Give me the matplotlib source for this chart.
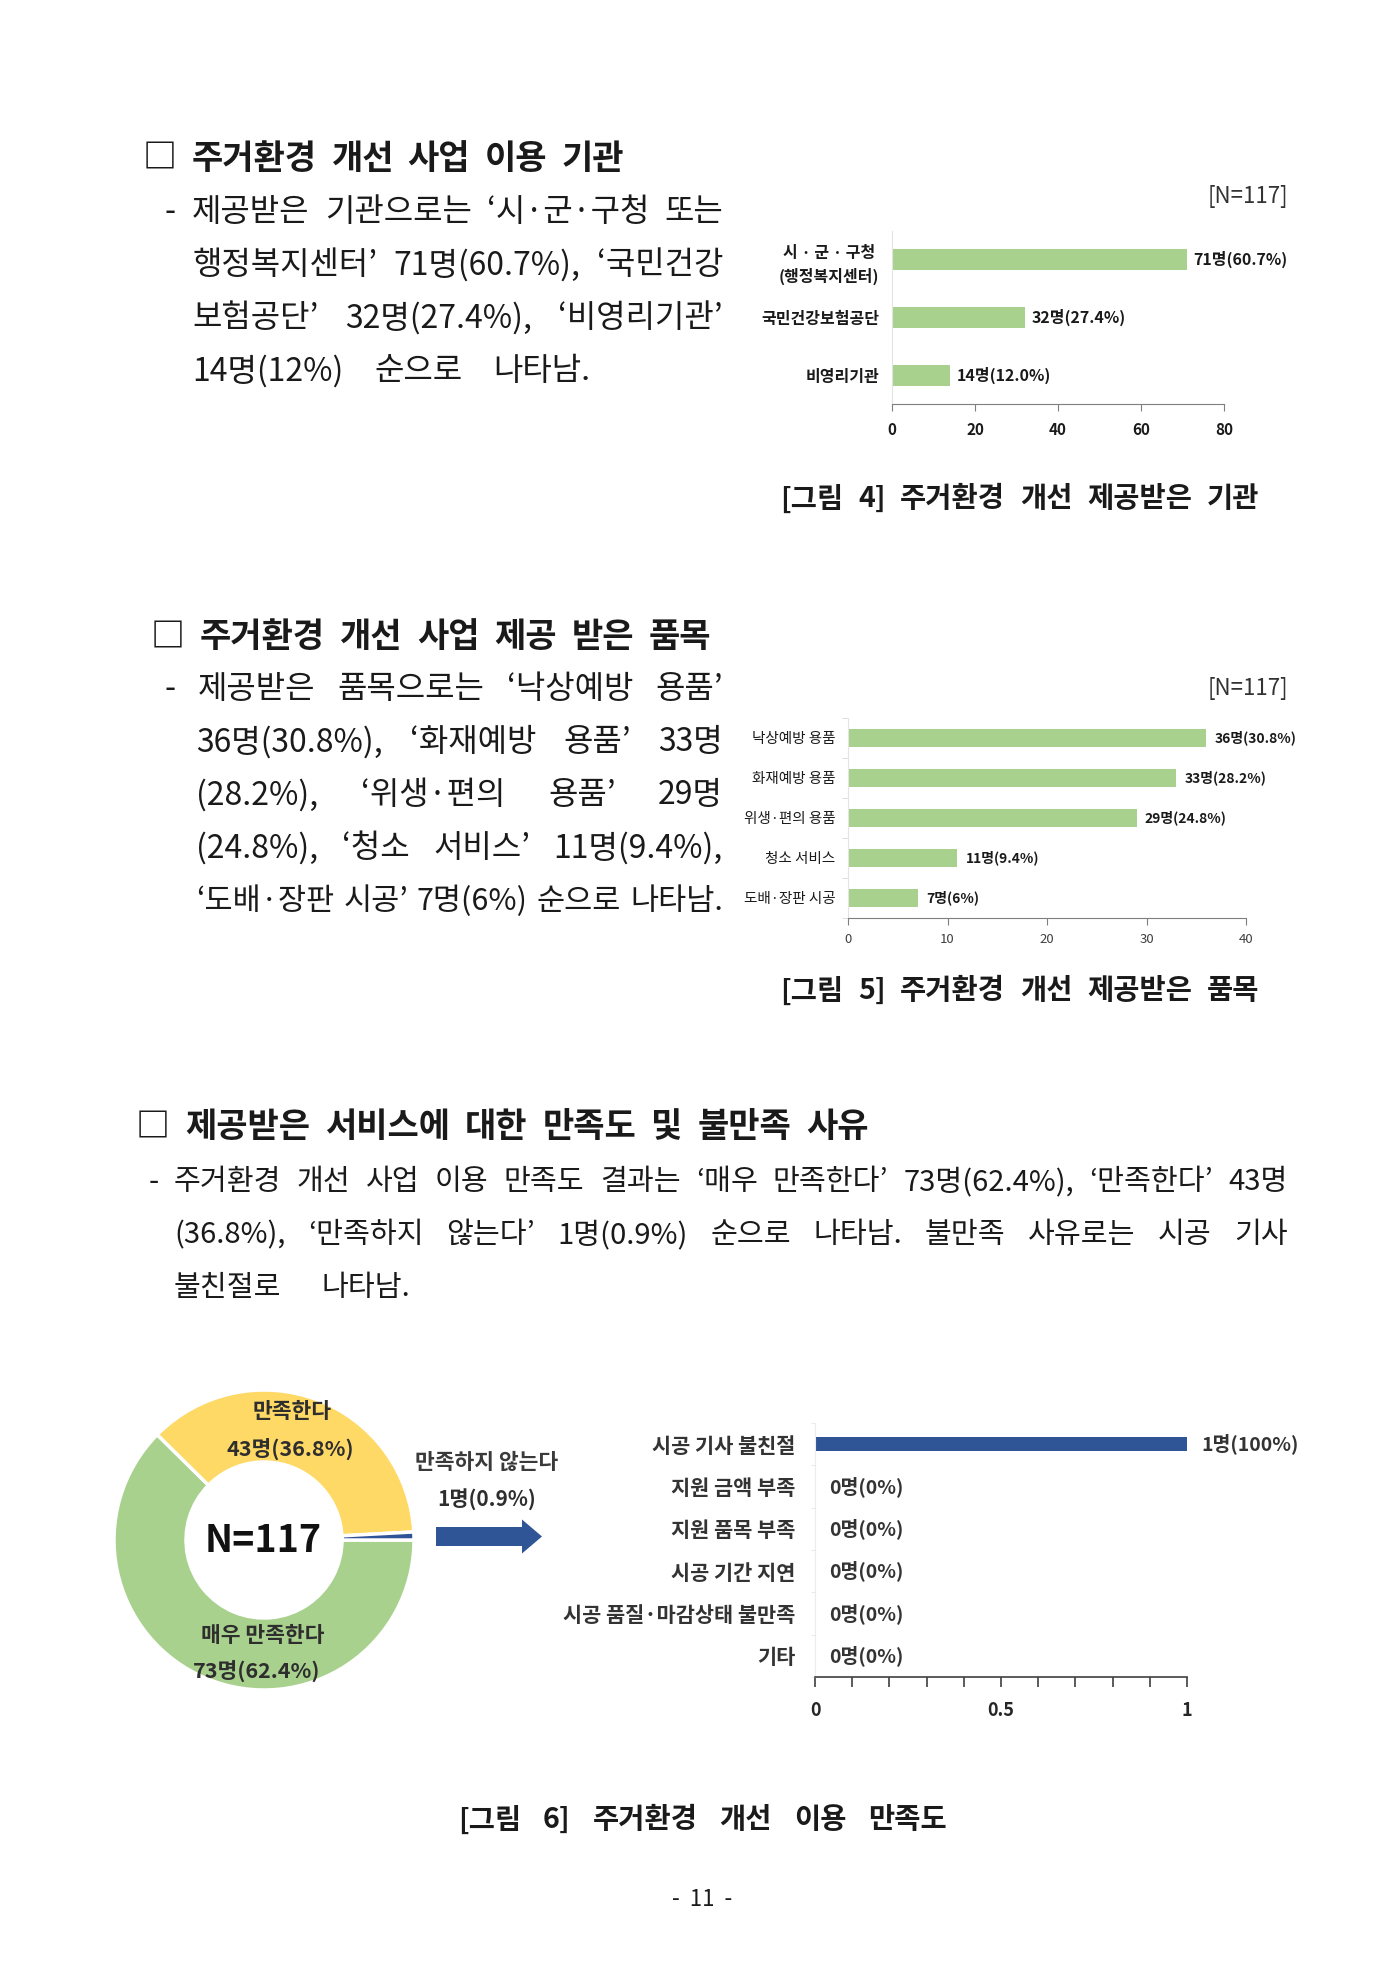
import matplotlib
matplotlib.use('Agg')
import matplotlib.pyplot as plt
from matplotlib.patches import FancyArrow
from matplotlib.ticker import MultipleLocator, FixedLocator

plt.rcParams['font.family'] = ['Noto Sans CJK KR', 'DejaVu Sans']

# ---------------- data ----------------
inst_labels = ['시 · 군 · 구청\n(행정복지센터)', '국민건강보험공단', '비영리기관']
inst_counts = [71, 32, 14]
inst_pcts = ['60.7%', '27.4%', '12.0%']
inst_ticks = [0, 20, 40, 60, 80]

item_labels = ['낙상예방 용품', '화재예방 용품', '위생·편의 용품', '청소 서비스', '도배·장판 시공']
item_counts = [36, 33, 29, 11, 7]
item_pcts = ['30.8%', '28.2%', '24.8%', '9.4%', '6%']
item_ticks = [0, 10, 20, 30, 40]

sat_labels = ['매우 만족한다', '만족한다', '만족하지 않는다']
sat_counts = [73, 43, 1]
sat_pcts = ['62.4%', '36.8%', '0.9%']
sat_total = 117

reason_labels = ['시공 기사 불친절', '지원 금액 부족', '지원 품목 부족', '시공 기간 지연',
                 '시공 품질·마감상태 불만족', '기타']
reason_counts = [1, 0, 0, 0, 0, 0]
reason_pcts = ['100%', '0%', '0%', '0%', '0%', '0%']
reason_ticks = [0, 0.5, 1]
reason_tick_labels = ['0', '0.5', '1']

GREEN = '#A9D18E'
YELLOW = '#FFD966'
BLUE = '#2F5597'
TXT = '#1a1a1a'

W, H = 1400, 1980
fig = plt.figure(figsize=(14, 19.8), dpi=100)
fig.patch.set_facecolor('white')
page = fig.add_axes([0, 0, 1, 1])
page.set_xlim(0, W)
page.set_ylim(H, 0)
page.axis('off')
page.set_zorder(10)
renderer = fig.canvas.get_renderer()


def px_axes(x0, y0, x1, y1):
    return fig.add_axes([x0 / W, 1 - y1 / H, (x1 - x0) / W, (y1 - y0) / H])


def words_line(x, y, s, size, weight='normal', right=None, gap_em=0.3, color=TXT):
    words = s.split(' ')
    objs = [page.text(0, y, w, fontsize=size, fontweight=weight, va='center',
                      ha='left', color=color) for w in words]
    widths = [o.get_window_extent(renderer=renderer).width for o in objs]
    if right is not None and len(words) > 1:
        gap = (right - x - sum(widths)) / (len(words) - 1)
    else:
        gap = gap_em * size * 100 / 72
    cx = x
    for o, w in zip(objs, widths):
        o.set_x(cx)
        cx += w + gap


# ---------------- section 1 ----------------
HEAD = 24.5
words_line(143, 158, '□ 주거환경 개선 사업 이용 기관', HEAD, 'bold', right=624)
BODY = 23
page.text(164, 212, '-', fontsize=BODY, va='center', ha='left', color=TXT)
words_line(192, 212, '제공받은 기관으로는 ‘시·군·구청 또는', BODY, right=723)
words_line(192, 265, '행정복지센터’ 71명(60.7%), ‘국민건강', BODY, right=723)
words_line(192, 318, '보험공단’ 32명(27.4%), ‘비영리기관’', BODY, right=723)
words_line(192, 371, '14명(12%) 순으로 나타남.', BODY, right=590)

page.text(1288, 196, '[N=117]', fontsize=16, ha='right', va='center', color='#333333')

ax1 = px_axes(892, 231, 1224, 404)
ax1.barh(range(len(inst_counts)), inst_counts, height=0.36, color=GREEN)
ax1.set_xlim(0, 80)
ax1.set_ylim(len(inst_counts) - 0.5, -0.5)
ax1.set_xticks(inst_ticks)
ax1.set_yticks(range(len(inst_labels)))
ax1.set_yticklabels(inst_labels, fontsize=11.5, fontweight='bold', color=TXT, linespacing=1.5)
for lbl in ax1.get_yticklabels():
    lbl.set_multialignment('center')
ax1.tick_params(axis='y', length=0, pad=9)
ax1.tick_params(axis='x', length=5, color='#7f7f7f', labelsize=11, pad=8, labelcolor=TXT)
for lbl in ax1.get_xticklabels():
    lbl.set_fontweight('bold')
for s in ['top', 'right']:
    ax1.spines[s].set_visible(False)
ax1.spines['left'].set_color('#e3e3e3')
ax1.spines['bottom'].set_color('#7f7f7f')
for i, (c, p) in enumerate(zip(inst_counts, inst_pcts)):
    ax1.annotate(f'{c}명({p})', xy=(c, i), xytext=(5, 0), textcoords='offset points',
                 va='center', ha='left', fontsize=11.5, fontweight='bold', color=TXT)

CAP = 20.5
words_line(780, 499, '[그림 4] 주거환경 개선 제공받은 기관', CAP, 'bold', right=1259)

# ---------------- section 2 ----------------
words_line(151, 637, '□ 주거환경 개선 사업 제공 받은 품목', HEAD, 'bold', right=711)
page.text(165, 689, '-', fontsize=BODY, va='center', ha='left', color=TXT)
words_line(198, 689, '제공받은 품목으로는 ‘낙상예방 용품’', BODY, right=723)
words_line(196, 742, '36명(30.8%), ‘화재예방 용품’ 33명', BODY, right=723)
words_line(196, 795, '(28.2%), ‘위생·편의 용품’ 29명', BODY, right=723)
words_line(196, 848, '(24.8%), ‘청소 서비스’ 11명(9.4%),', BODY, right=723)
words_line(196, 901, '‘도배·장판 시공’ 7명(6%) 순으로 나타남.', 22, right=723)

page.text(1288, 688, '[N=117]', fontsize=16, ha='right', va='center', color='#333333')

ax2 = px_axes(848, 718, 1246, 918)
ax2.barh(range(len(item_counts)), item_counts, height=0.47, color=GREEN)
ax2.set_xlim(0, 40)
ax2.set_ylim(len(item_counts) - 0.5, -0.5)
ax2.set_xticks(item_ticks)
ax2.set_yticks(range(len(item_labels)))
ax2.set_yticklabels(item_labels, fontsize=10.5, fontweight='medium', color=TXT)
ax2.yaxis.set_minor_locator(FixedLocator([i - 0.5 for i in range(len(item_labels) + 1)]))
ax2.tick_params(axis='y', which='major', length=0, pad=9)
ax2.tick_params(axis='y', which='minor', length=4, color='#d9d9d9')
ax2.tick_params(axis='x', length=5, color='#7f7f7f', labelsize=9.5, pad=6, labelcolor='#404040')
for s in ['top', 'right']:
    ax2.spines[s].set_visible(False)
ax2.spines['left'].set_color('#e3e3e3')
ax2.spines['bottom'].set_color('#7f7f7f')
for i, (c, p) in enumerate(zip(item_counts, item_pcts)):
    ax2.annotate(f'{c}명({p})', xy=(c, i), xytext=(6, 0), textcoords='offset points',
                 va='center', ha='left', fontsize=10, fontweight='bold', color=TXT)

words_line(780, 991, '[그림 5] 주거환경 개선 제공받은 품목', CAP, 'bold', right=1259)

# ---------------- section 3 ----------------
words_line(136, 1127, '□ 제공받은 서비스에 대한 만족도 및 불만족 사유', HEAD, 'bold', right=869)
B3 = 21
page.text(149, 1182, '-', fontsize=B3, va='center', ha='left', color=TXT)
words_line(174, 1182, '주거환경 개선 사업 이용 만족도 결과는 ‘매우 만족한다’ 73명(62.4%), ‘만족한다’ 43명', B3, right=1288)
words_line(174, 1235, '(36.8%), ‘만족하지 않는다’ 1명(0.9%) 순으로 나타남. 불만족 사유로는 시공 기사', B3, right=1288)
words_line(174, 1288, '불친절로 나타남.', B3, right=410)

# donut
cx, cy, R = 264, 1540, 150
axd = px_axes(cx - R, cy - R, cx + R, cy + R)
axd.pie(sat_counts, colors=[GREEN, YELLOW, BLUE], startangle=0, counterclock=False,
        radius=1.0, wedgeprops=dict(width=0.48, edgecolor='white', linewidth=2.5))
axd.set_xlim(-1, 1)
axd.set_ylim(-1, 1)
axd.set_aspect('equal')
axd.axis('off')

DON = '#2e2e2e'
DS = 15.5
page.text(292, 1412, sat_labels[1], fontsize=DS, fontweight='bold', ha='center', va='center', color=DON)
page.text(290, 1450, f'{sat_counts[1]}명({sat_pcts[1]})', fontsize=DS, fontweight='bold', ha='center', va='center', color=DON)
page.text(263, 1635, sat_labels[0], fontsize=DS, fontweight='bold', ha='center', va='center', color=DON)
page.text(257, 1672, f'{sat_counts[0]}명({sat_pcts[0]})', fontsize=DS, fontweight='bold', ha='center', va='center', color=DON)
page.text(263, 1540, f'N={sat_total}', fontsize=27, fontweight='bold', ha='center', va='center', color='#111111')
page.text(487, 1462, sat_labels[2], fontsize=15.5, fontweight='bold', ha='center', va='center', color='#3a3a3a')
page.text(487, 1500, f'{sat_counts[2]}명({sat_pcts[2]})', fontsize=15, fontweight='bold', ha='center', va='center', color=DON)

page.add_patch(FancyArrow(436, 1536.5, 106, 0, width=19, head_width=34, head_length=20,
                          length_includes_head=True, color=BLUE, lw=0))

# reasons bar chart
ax3 = px_axes(815, 1423, 1187, 1677)
ax3.barh(range(len(reason_counts)), reason_counts, height=0.33, color=BLUE)
ax3.set_xlim(0, 1)
ax3.set_ylim(len(reason_counts) - 0.5, -0.5)
ax3.set_xticks(reason_ticks)
ax3.set_xticklabels(reason_tick_labels, fontsize=13, fontweight='bold', color='#262626')
ax3.xaxis.set_minor_locator(MultipleLocator(0.1))
ax3.set_yticks(range(len(reason_labels)))
ax3.set_yticklabels(reason_labels, fontsize=15, fontweight='bold', color='#333333')
ax3.yaxis.set_minor_locator(FixedLocator([i - 0.5 for i in range(len(reason_labels) + 1)]))
ax3.tick_params(axis='y', which='major', length=0, pad=14)
ax3.tick_params(axis='y', which='minor', length=3, color='#e6e6e6')
ax3.tick_params(axis='x', which='both', length=7, color='#404040', width=1.2, pad=10)
for s in ['top', 'right']:
    ax3.spines[s].set_visible(False)
ax3.spines['left'].set_color('#ececec')
ax3.spines['bottom'].set_color('#404040')
ax3.spines['bottom'].set_linewidth(1.2)
for i, (c, p) in enumerate(zip(reason_counts, reason_pcts)):
    ax3.annotate(f'{c}명({p})', xy=(c, i), xytext=(10, 0), textcoords='offset points',
                 va='center', ha='left', fontsize=14, fontweight='bold', color='#333333')

words_line(458, 1820, '[그림 6] 주거환경 개선 이용 만족도', CAP, 'bold', right=947)
page.text(702, 1900, '-  11  -', fontsize=16, ha='center', va='center', color=TXT)

fig.savefig('out.png', dpi=100, facecolor='white')
